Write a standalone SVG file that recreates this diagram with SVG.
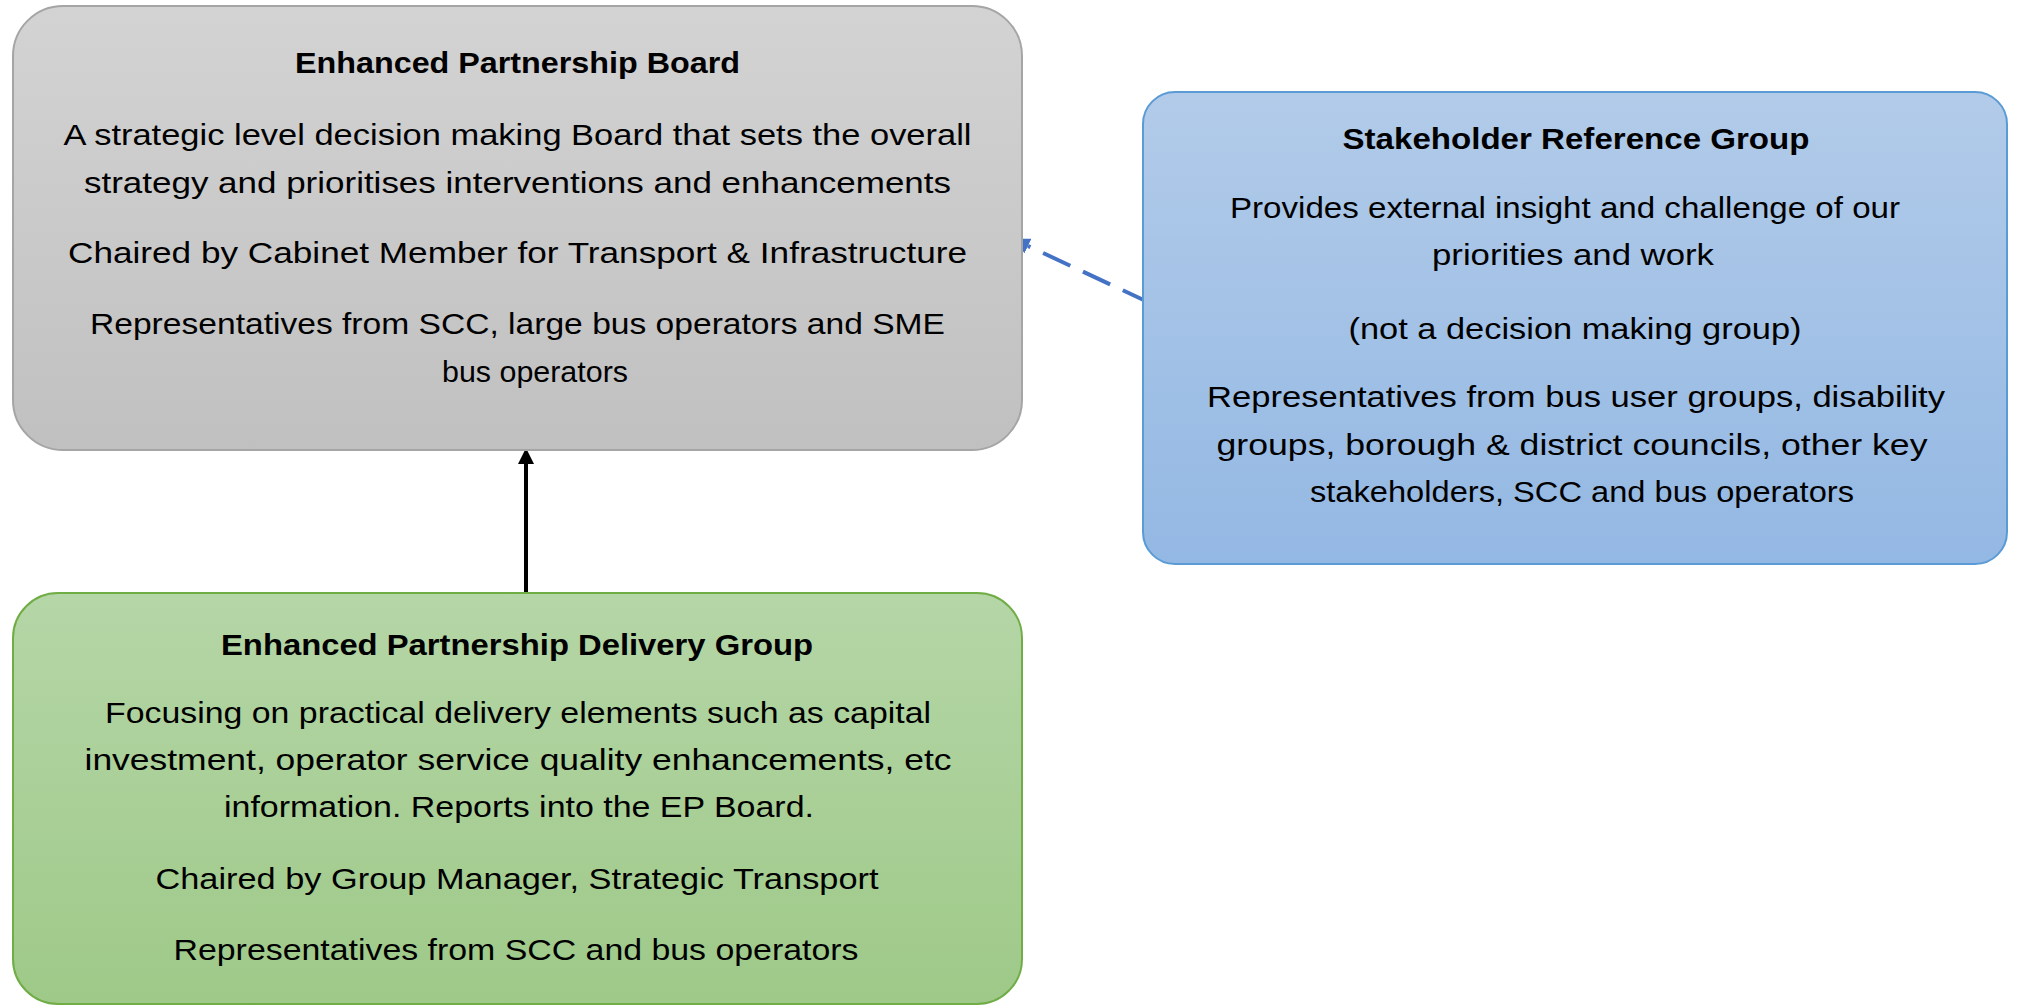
<svg xmlns="http://www.w3.org/2000/svg" width="2017" height="1006" viewBox="0 0 2017 1006">
<style>
text{font-family:"Liberation Sans",Arial,sans-serif;font-size:30px;fill:#000;text-anchor:middle}
.t{font-weight:bold}
</style>
<defs>
<linearGradient id="gGray" x1="0" y1="0" x2="0" y2="1"><stop offset="0" stop-color="#d3d3d3"/><stop offset="1" stop-color="#c0c0c0"/></linearGradient>
<linearGradient id="gBlue" x1="0" y1="0" x2="0" y2="1"><stop offset="0" stop-color="#b2cbe9"/><stop offset="1" stop-color="#93b8e3"/></linearGradient>
<linearGradient id="gGreen" x1="0" y1="0" x2="0" y2="1"><stop offset="0" stop-color="#b5d6a7"/><stop offset="1" stop-color="#9ec988"/></linearGradient>
<marker id="aBlack" markerUnits="userSpaceOnUse" markerWidth="16" markerHeight="16" refX="0" refY="8" orient="auto" viewBox="0 0 16 16"><path d="M0,0 L16,8 L0,16 z" fill="#000"/></marker>
<marker id="aBlue" markerUnits="userSpaceOnUse" markerWidth="18" markerHeight="18" refX="0" refY="9" orient="auto" viewBox="0 0 18 18"><path d="M0,1 L17,9 L0,17 z" fill="#4472c4"/></marker>
</defs>
<g id="connectors">
<line x1="526" y1="593" x2="526" y2="464" stroke="#000" stroke-width="4" marker-end="url(#aBlack)"/>
<line x1="1150" y1="303" x2="1028" y2="246" stroke="#4472c4" stroke-width="4" stroke-dasharray="30,14" marker-end="url(#aBlue)"/>
</g>
<g id="board">
<rect x="13" y="6" width="1009" height="444" rx="50" ry="50" fill="url(#gGray)" stroke="#a5a5a5" stroke-width="2"/>
<text class="t" x="517.5" y="73" textLength="445" lengthAdjust="spacingAndGlyphs">Enhanced Partnership Board</text>
<text x="517.5" y="145" textLength="908" lengthAdjust="spacingAndGlyphs">A strategic level decision making Board that sets the overall</text>
<text x="517.5" y="193" textLength="867" lengthAdjust="spacingAndGlyphs">strategy and prioritises interventions and enhancements</text>
<text x="517.5" y="263" textLength="899" lengthAdjust="spacingAndGlyphs">Chaired by Cabinet Member for Transport &amp; Infrastructure</text>
<text x="517.5" y="334" textLength="855" lengthAdjust="spacingAndGlyphs">Representatives from SCC, large bus operators and SME</text>
<text x="535" y="382" textLength="186" lengthAdjust="spacingAndGlyphs">bus operators</text>
</g>
<g id="stakeholder">
<rect x="1143" y="92" width="864" height="472" rx="32" ry="32" fill="url(#gBlue)" stroke="#5b9bd5" stroke-width="2"/>
<text class="t" x="1576" y="149" textLength="467" lengthAdjust="spacingAndGlyphs">Stakeholder Reference Group</text>
<text x="1565" y="218" textLength="670" lengthAdjust="spacingAndGlyphs">Provides external insight and challenge of our</text>
<text x="1573" y="265" textLength="282" lengthAdjust="spacingAndGlyphs">priorities and work</text>
<text x="1575" y="339" textLength="453" lengthAdjust="spacingAndGlyphs">(not a decision making group)</text>
<text x="1576" y="407" textLength="738" lengthAdjust="spacingAndGlyphs">Representatives from bus user groups, disability</text>
<text x="1572" y="455" textLength="711" lengthAdjust="spacingAndGlyphs">groups, borough &amp; district councils, other key</text>
<text x="1582" y="502" textLength="544" lengthAdjust="spacingAndGlyphs">stakeholders, SCC and bus operators</text>
</g>
<g id="delivery">
<rect x="13" y="593" width="1009" height="411" rx="45" ry="45" fill="url(#gGreen)" stroke="#70ad47" stroke-width="2"/>
<text class="t" x="517" y="655" textLength="592" lengthAdjust="spacingAndGlyphs">Enhanced Partnership Delivery Group</text>
<text x="518" y="723" textLength="826" lengthAdjust="spacingAndGlyphs">Focusing on practical delivery elements such as capital</text>
<text x="518" y="770" textLength="867" lengthAdjust="spacingAndGlyphs">investment, operator service quality enhancements, etc</text>
<text x="519" y="817" textLength="590" lengthAdjust="spacingAndGlyphs">information. Reports into the EP Board.</text>
<text x="517" y="889" textLength="723" lengthAdjust="spacingAndGlyphs">Chaired by Group Manager, Strategic Transport</text>
<text x="516" y="960" textLength="685" lengthAdjust="spacingAndGlyphs">Representatives from SCC and bus operators</text>
</g>
</svg>
